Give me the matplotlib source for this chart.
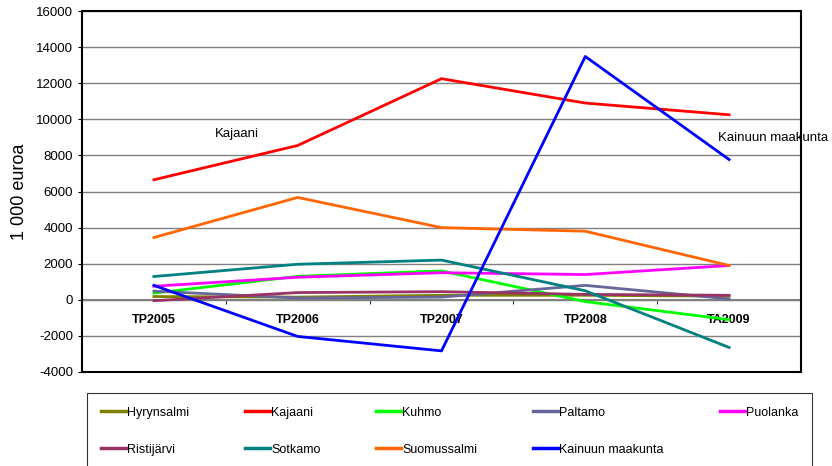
import matplotlib
matplotlib.use("Agg")
import matplotlib.pyplot as plt
from matplotlib.patches import Rectangle

plt.rcParams['font.family'] = ['Liberation Sans', 'DejaVu Sans']
plt.rcParams['axes.unicode_minus'] = False

years = ["TP2005", "TP2006", "TP2007", "TP2008", "TA2009"]

hyrynsalmi = [180, 150, 250, 250, 200]
kajaani = [6650, 8550, 12250, 10900, 10250]
kuhmo = [370, 1300, 1600, -100, -1100]
paltamo = [480, 100, 150, 800, 50]
puolanka = [750, 1250, 1500, 1400, 1900]
ristijarvi = [-50, 400, 450, 300, 250]
sotkamo = [1290, 1970, 2200, 500, -2640]
suomussalmi = [3450, 5670, 4000, 3800, 1900]
kainuu = [800, -2030, -2830, 13480, 7770]

names = ["Hyrynsalmi", "Kajaani", "Kuhmo", "Paltamo", "Puolanka",
         "Ristijärvi", "Sotkamo", "Suomussalmi", "Kainuun maakunta"]
series = [hyrynsalmi, kajaani, kuhmo, paltamo, puolanka,
          ristijarvi, sotkamo, suomussalmi, kainuu]
colors = ["#808000", "#FF0000", "#00FF00", "#666699", "#FF00FF",
          "#993366", "#008080", "#FF6600", "#0000FF"]

fig = plt.figure(figsize=(8.32, 4.66), dpi=100)
ax = fig.add_axes([82/832, 1-372/466, 719/832, 361/466])

x = range(len(years))
lines = []
for name, vals, col in zip(names, series, colors):
    ln, = ax.plot(x, vals, color=col, lw=2.0, label=name, zorder=3)
    lines.append(ln)

ax.set_xlim(-0.5, 4.5)
ax.set_ylim(-4000, 16000)
ax.set_yticks(range(-4000, 16001, 2000))
ax.yaxis.grid(True, color="#808080", lw=1.0)
ax.set_axisbelow(True)
ax.tick_params(axis='y', labelsize=9.5, length=3, direction='out')

# category axis crosses at zero
for s in ["top", "right", "left"]:
    ax.spines[s].set_visible(False)
ax.spines["bottom"].set_position(("data", 0))
ax.spines["bottom"].set_color("#808080")
ax.spines["bottom"].set_linewidth(1.5)
ax.set_xticks(list(x))
ax.set_xticklabels(years, fontsize=9, fontweight="bold")
ax.set_xticks([0.5, 1.5, 2.5, 3.5], minor=True)
ax.tick_params(axis='x', which='major', length=0, pad=10)
ax.tick_params(axis='x', which='minor', length=3, color="black")
ax.add_patch(Rectangle((0, 0), 1, 1, transform=ax.transAxes, fill=False,
                       edgecolor="black", lw=1.5, clip_on=False, zorder=5))

ax.set_ylabel("1 000 euroa", fontsize=13, labelpad=6)

ax.text(0.58, 9200, "Kajaani", fontsize=9.5, ha="center", va="center")
ax.text(3.92, 8950, "Kainuun maakunta", fontsize=9.5, ha="left", va="center")

# legend filled row by row like the original
order = [0, 5, 1, 6, 2, 7, 3, 8, 4]
top = 1 - 393/466
leg = fig.legend(handles=[lines[i] for i in order], loc="upper left", ncol=5,
                 bbox_to_anchor=(87/832, top - 0.3, (812-87)/832, 0.3),
                 mode="expand", frameon=True, fancybox=False,
                 edgecolor="black", handlelength=2.0,
                 handletextpad=0.1, labelspacing=2.0, borderpad=1.1,
                 borderaxespad=0, fontsize=9)
leg.get_frame().set_linewidth(0.8)
for h in leg.get_lines():
    h.set_linewidth(2.5)

fig.savefig("out.png", dpi=100)
